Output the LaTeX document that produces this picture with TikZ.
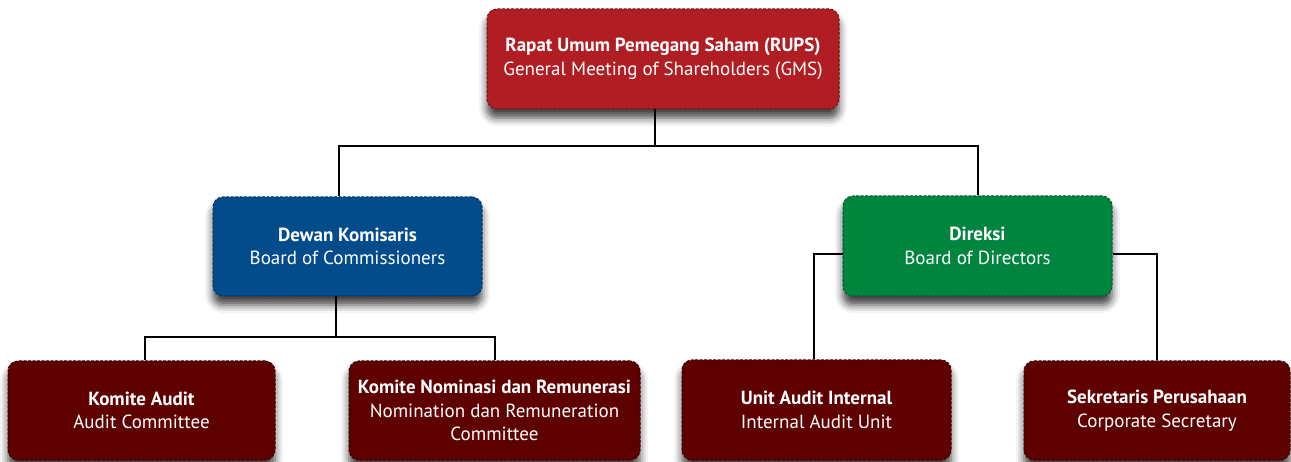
\documentclass[tikz,border=0pt]{standalone}
\usepackage{fontspec}
\setmainfont{PT Sans}
\usetikzlibrary{shadows.blur}
\definecolor{rupsred}{HTML}{B01E24}
\definecolor{rupsedge}{HTML}{7A1216}
\definecolor{boardblue}{HTML}{034C8C}
\definecolor{blueedge}{HTML}{02335F}
\definecolor{boardgreen}{HTML}{00853F}
\definecolor{greenedge}{HTML}{005A2A}
\definecolor{unitred}{HTML}{5E0000}
\definecolor{unitedge}{HTML}{3A0000}
\tikzset{
  orgbox/.style={rectangle, rounded corners=10pt, align=center, text=white,
    dash pattern=on 3pt off 1.5pt, line width=1pt, inner sep=0pt,
    font=\fontsize{19}{23.5}\selectfont,
    blur shadow={shadow xshift=0pt, shadow yshift=-9pt, shadow blur radius=8pt, shadow opacity=75}},
  redbox/.style={orgbox, fill=rupsred, draw=rupsedge},
  bluebox/.style={orgbox, fill=boardblue, draw=blueedge},
  greenbox/.style={orgbox, fill=boardgreen, draw=greenedge},
  unitbox/.style={orgbox, fill=unitred, draw=unitedge},
  link/.style={draw=black, line width=2pt}
}
\begin{document}
\begin{tikzpicture}[x=1pt,y=-1pt]
\useasboundingbox (0,0) rectangle (1291,462);
\node[redbox, minimum width=352pt, minimum height=100pt] (rups) at (663,59)
  {\textbf{Rapat Umum Pemegang Saham (RUPS)}\\General Meeting of Shareholders (GMS)};
\node[bluebox, minimum width=269pt, minimum height=99pt] (dk) at (347.5,246.5)
  {\textbf{Dewan Komisaris}\\Board of Commissioners};
\node[greenbox, minimum width=269pt, minimum height=100pt] (dir) at (977.5,246)
  {\textbf{Direksi}\\Board of Directors};
\node[unitbox, minimum width=267pt, minimum height=99pt] (ka) at (141.5,410.5)
  {\textbf{Komite Audit}\\Audit Committee};
\node[unitbox, minimum width=291pt, minimum height=99pt] (knr) at (494.5,410.5)
  {\textbf{Komite Nominasi dan Remunerasi}\\Nomination dan Remuneration\\Committee};
\node[unitbox, minimum width=269pt, minimum height=100pt] (uai) at (816.5,410)
  {\textbf{Unit Audit Internal}\\Internal Audit Unit};
\node[unitbox, minimum width=266pt, minimum height=99pt] (sp) at (1157,410.5)
  {\textbf{Sekretaris Perusahaan}\\Corporate Secretary};
\coordinate (j1) at (655,146);
\coordinate (j2) at (336,337);
\coordinate (jl) at (814,254);
\coordinate (jr) at (1157,254);
\draw[link] (rups.south -| j1) -- (j1);
\draw[link] (dk.north -| 339,0) |- (j1) -| (dir.north);
\draw[link] (dk.south -| j2) -- (j2);
\draw[link] (ka.north -| 145,0) |- (j2) -| (knr.north);
\draw[link] (dir.west |- jl) -- (jl) -- (uai.north -| jl);
\draw[link] (dir.east |- jr) -- (jr) -- (sp.north);
\end{tikzpicture}
\end{document}
